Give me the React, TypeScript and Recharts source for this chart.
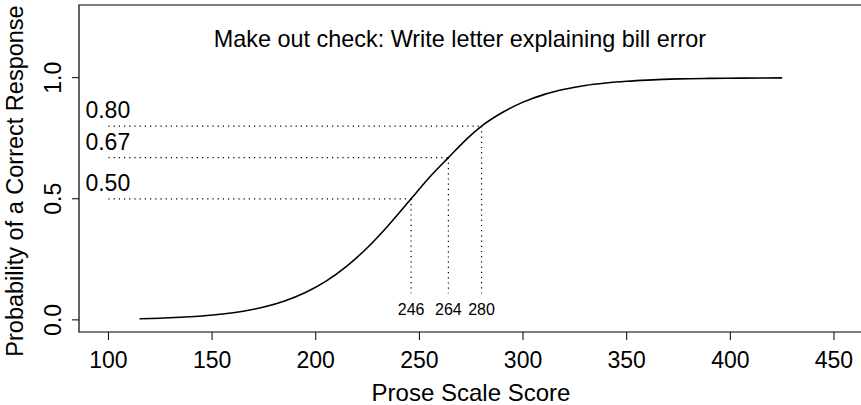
import React from 'react';
import { LineChart, Line, XAxis, YAxis, ReferenceLine, ReferenceArea } from 'recharts';

// item characteristic curve: prose scale score vs. probability of a correct response
const scores = [115, 125, 135, 145, 155, 165, 175, 185, 195, 205, 215, 225, 235, 246, 255, 264, 275, 280, 290, 300, 310, 320, 330, 340, 350, 360, 375, 390, 405, 425];
const probs = [0.005, 0.007, 0.011, 0.016, 0.024, 0.036, 0.053, 0.078, 0.113, 0.16, 0.222, 0.299, 0.39, 0.5, 0.59, 0.67, 0.764, 0.8, 0.856, 0.899, 0.93, 0.952, 0.968, 0.978, 0.985, 0.99, 0.995, 0.997, 0.998, 0.999];

// response-probability cut points
const cutLevels = [0.5, 0.67, 0.8];
const cutScores = [246, 264, 280];
const levelLabels = ['0.50', '0.67', '0.80'];

const xTicks = [100, 150, 200, 250, 300, 350, 400, 450];
const yTicks = [0, 0.5, 1];
const xDomain: [number, number] = [85.8, 464];
const yDomain: [number, number] = [-0.05, 1.3];
const guideStart = 100;
const guideBottom = 0.11;

const FONT = '"Liberation Sans", Arial, Helvetica, sans-serif';

const data = scores.map((s, i) => ({ score: s, p: probs[i] }));

const XTick = (props: any) => {
  const { x, y, payload } = props;
  return (
    <text x={x} y={y + 26} textAnchor="middle" fontSize={23} fontFamily={FONT} fill="#000">
      {payload.value}
    </text>
  );
};

const YTick = (props: any) => {
  const { y, payload } = props;
  return (
    <text x={53} y={y} dy="0.36em" textAnchor="middle" transform={`rotate(-90, 53, ${y})`} fontSize={23} fontFamily={FONT} fill="#000">
      {Number(payload.value).toFixed(1)}
    </text>
  );
};

const levelLabel = (text: string) => (props: any) => {
  const vb = props.viewBox || {};
  return (
    <text x={vb.x - 23} y={vb.y - 8} fontSize={23} fontFamily={FONT} fill="#000">
      {text}
    </text>
  );
};

const scoreLabel = (text: string) => (props: any) => {
  const vb = props.viewBox || {};
  return (
    <text x={vb.x} y={vb.y + (vb.height || 0) + 22} textAnchor="middle" fontSize={16} fontFamily={FONT} fill="#000">
      {text}
    </text>
  );
};

const titleLabel = (props: any) => {
  const vb = props.viewBox || {};
  return (
    <text x={460} y={vb.y + 42} textAnchor="middle" fontSize={23.4} fontFamily={FONT} fill="#000">
      Make out check: Write letter explaining bill error
    </text>
  );
};

const xTitle = (props: any) => {
  const vb = props.viewBox || {};
  return (
    <text x={vb.x + vb.width / 2} y={401} textAnchor="middle" fontSize={24} fontFamily={FONT} fill="#000">
      Prose Scale Score
    </text>
  );
};

const yTitle = () => (
  <text x={23} y={181} textAnchor="middle" transform="rotate(-90, 23, 181)" fontSize={23.5} fontFamily={FONT} fill="#000">
    Probability of a Correct Response
  </text>
);

export default function App() {
  return (
    <div style={{ position: 'absolute', left: 0, top: 0, width: 861, height: 405, overflow: 'hidden', background: '#fff' }}>
      <LineChart width={864} height={405} data={data} margin={{ top: 5, right: 1, bottom: 0, left: 0 }}>
        <XAxis
          dataKey="score"
          type="number"
          domain={xDomain}
          ticks={xTicks}
          allowDataOverflow
          height={73}
          axisLine={false}
          tickSize={8}
          tickLine={{ stroke: '#000', strokeWidth: 1 }}
          tick={<XTick />}
          label={xTitle}
        />
        <YAxis
          type="number"
          domain={yDomain}
          ticks={yTicks}
          allowDataOverflow
          width={79}
          axisLine={false}
          tickSize={7}
          tickLine={{ stroke: '#000', strokeWidth: 1 }}
          tick={<YTick />}
          label={yTitle}
        />
        <ReferenceArea x1={xDomain[0]} x2={xDomain[1]} y1={yDomain[0]} y2={yDomain[1]} fill="none" fillOpacity={0} stroke="#000" strokeWidth={1.2} label={titleLabel} />
        {cutLevels.map((lv, i) => (
          <ReferenceLine
            key={`h-${i}`}
            segment={[{ x: guideStart, y: lv }, { x: cutScores[i], y: lv }]}
            stroke="#000"
            strokeWidth={1.2}
            strokeDasharray="1.2 4"
            label={levelLabel(levelLabels[i])}
          />
        ))}
        {cutScores.map((s, i) => (
          <ReferenceLine
            key={`v-${i}`}
            segment={[{ x: s, y: cutLevels[i] }, { x: s, y: guideBottom }]}
            stroke="#000"
            strokeWidth={1.2}
            strokeDasharray="1.2 4"
            label={scoreLabel(String(s))}
          />
        ))}
        <Line dataKey="p" type="monotone" stroke="#000" strokeWidth={1.6} dot={false} isAnimationActive={false} />
      </LineChart>
    </div>
  );
}
